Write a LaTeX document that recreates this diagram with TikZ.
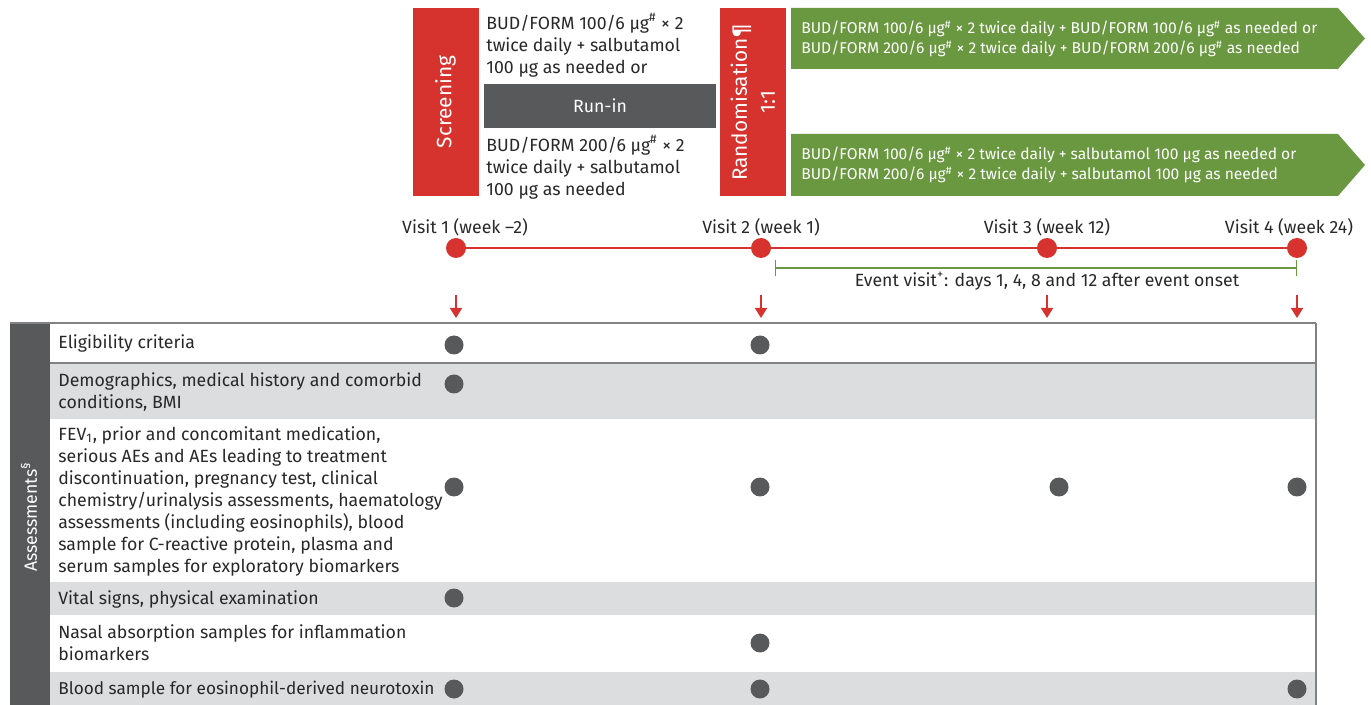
\documentclass[tikz,border=0pt]{standalone}
\usepackage{fontspec}
\setmainfont{Fira Sans}
\usetikzlibrary{arrows.meta}
\definecolor{redc}{RGB}{214,50,46}
\definecolor{grn}{RGB}{106,152,64}
\definecolor{dkgrey}{RGB}{88,89,91}
\definecolor{ltgrey}{RGB}{220,221,223}
\definecolor{bordc}{RGB}{130,130,132}
\definecolor{ink}{RGB}{40,40,42}
\tikzset{
  txt/.style={font=\fontsize{8.85}{11}\selectfont, text=ink, inner sep=0pt, align=left},
  head/.style={font=\fontsize{10.4}{12}\selectfont, text=white, inner sep=0pt},
  grntxt/.style={font=\fontsize{7.8}{10}\selectfont, text=white, inner sep=0pt, align=left, anchor=west},
  visit/.style={circle, fill=redc, minimum size=10pt, inner sep=0pt},
  assdot/.style={circle, fill=dkgrey, minimum size=9.5pt, inner sep=0pt},
  downarr/.style={redc, line width=0.8pt, -{Triangle[width=6pt,length=5pt]}}
}
\begin{document}
\begin{tikzpicture}[x=0.5pt, y=-0.5pt]
\useasboundingbox (0,0) rectangle (1371,705);

\node (scr) [fill=redc, head, rotate=90, minimum width=94pt, minimum height=33pt] at (445.5,102) {Screening};
\node (runin) [fill=dkgrey, txt, text=white, minimum width=116pt, minimum height=22pt] at (600,106) {Run-in};
\node (dose1) [txt, anchor=west] at (486,45) {BUD/FORM 100/6 µg\textsuperscript{\#} × 2\\twice daily + salbutamol\\100 µg as needed or};
\node (dose2) [txt, anchor=west] at (486,167) {BUD/FORM 200/6 µg\textsuperscript{\#} × 2\\twice daily + salbutamol\\100 µg as needed};
\node (rand) [fill=redc, head, rotate=90, align=center, minimum width=94pt, minimum height=33pt] at (753,102) {Randomisation¶\\[2pt]1:1};

\fill[grn] (791,8) -- (1338,8) -- (1365,38.5) -- (1338,69) -- (791,69) -- cycle;
\node (arm1) [grntxt] at (801,39) {BUD/FORM 100/6 µg\textsuperscript{\#} × 2 twice daily + BUD/FORM 100/6 µg\textsuperscript{\#} as needed or\\BUD/FORM 200/6 µg\textsuperscript{\#} × 2 twice daily + BUD/FORM 200/6 µg\textsuperscript{\#} as needed};
\fill[grn] (791,134) -- (1338,134) -- (1365,165) -- (1338,196) -- (791,196) -- cycle;
\node (arm2) [grntxt] at (801,165) {BUD/FORM 100/6 µg\textsuperscript{\#} × 2 twice daily + salbutamol 100 µg as needed or\\BUD/FORM 200/6 µg\textsuperscript{\#} × 2 twice daily + salbutamol 100 µg as needed};

\node (v1) [visit] at (456,248) {};
\node (v2) [visit] at (761,248) {};
\node (v3) [visit] at (1047,248) {};
\node (v4) [visit] at (1297,248) {};
\draw[redc, line width=0.7pt] (v1) -- (v2) -- (v3) -- (v4);
\node (l1) [txt] at (465,227) {Visit 1 (week –2)};
\node (l2) [txt] at (761,227) {Visit 2 (week 1)};
\node (l3) [txt] at (1047,227) {Visit 3 (week 12)};
\node (l4) [txt] at (1289,227) {Visit 4 (week 24)};

\coordinate (e1) at (775,268);
\coordinate (e2) at (1297,268);
\draw[grn, line width=0.6pt, {Bar[width=8pt]}-{Bar[width=8pt]}] (e1) -- (e2);
\node (ev) [txt] at (1047,281) {Event visit\textsuperscript{+}: days 1, 4, 8 and 12 after event onset};

\foreach \i/\x in {1/456, 2/761, 3/1047, 4/1297} {
  \coordinate (t\i) at (\x,295);
  \coordinate (h\i) at (\x,318);
  \draw[downarr] (t\i) -- (h\i);
}

\fill[dkgrey] (10,323) rectangle (50,705);
\fill[ltgrey] (50,363) rectangle (1316,419);
\fill[ltgrey] (50,582) rectangle (1316,615);
\fill[ltgrey] (50,672) rectangle (1316,705);
\draw[bordc, line width=1pt] (10,323) -- (1316,323);
\draw[bordc, line width=0.6pt] (1316,323) -- (1316,705);
\draw[bordc, line width=0.8pt] (50,363) -- (1316,363);
\node (ass) [txt, text=white, rotate=90] at (29,517) {Assessments\textsuperscript{§}};

\node (r1) [txt, anchor=west] at (58,343) {Eligibility criteria};
\node (r2) [txt, anchor=west] at (58,392) {Demographics, medical history and comorbid\\conditions, BMI};
\node (r3) [txt, anchor=west] at (58,501) {FEV\textsubscript{1}, prior and concomitant medication,\\serious AEs and AEs leading to treatment\\discontinuation, pregnancy test, clinical\\chemistry/urinalysis assessments, haematology\\assessments (including eosinophils), blood\\sample for C-reactive protein, plasma and\\serum samples for exploratory biomarkers};
\node (r4) [txt, anchor=west] at (58,599) {Vital signs, physical examination};
\node (r5) [txt, anchor=west] at (58,643) {Nasal absorption samples for inflammation\\biomarkers};
\node (r6) [txt, anchor=west, font=\fontsize{8.6}{11}\selectfont] at (58,690) {Blood sample for eosinophil-derived neurotoxin};

\foreach \x/\y [count=\n] in {454/345, 760/345, 454/384, 454/487, 760/487, 1059/487, 1297/487, 454/598, 760/643, 454/689, 760/689, 1297/689}
  \node (d\n) [assdot] at (\x,\y) {};
\end{tikzpicture}
\end{document}
